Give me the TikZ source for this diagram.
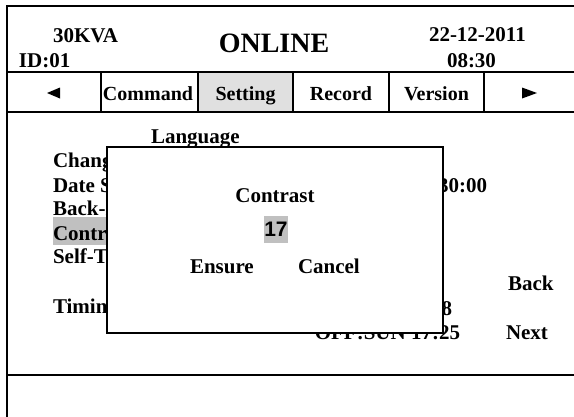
\documentclass[tikz,border=0pt]{standalone}
\usepackage{fontspec}
\setmainfont{Liberation Serif}
\newfontfamily\arialfont{Liberation Sans}
\definecolor{tabgray}{HTML}{E0E0E0}
\definecolor{selgray}{HTML}{C0C0C0}
\begin{document}
\begin{tikzpicture}[x=1pt,y=-1pt,
  every node/.style={inner sep=0pt, outer sep=0pt, font=\bfseries\fontsize{21}{24}\selectfont},
  frameline/.style={line width=2.2pt},
  lbl/.style={anchor=base west},
  lblr/.style={anchor=base east},
  tablbl/.style={anchor=base, font=\bfseries\fontsize{20}{24}\selectfont},
  tri/.style={fill=black}]
\clip (0,0) rectangle (574,416);
\fill[white] (0,0) rectangle (574,416);
% tab highlight
\fill[tabgray] (198,72) rectangle (293,112);
% frame lines
\draw[frameline] (7,6) -- (600,6);
\draw[frameline] (7,5) -- (7,430);
\draw[frameline] (7,72) -- (600,72);
\draw[frameline] (7,112) -- (600,112);
\draw[frameline] (7,375) -- (600,375);
\foreach \x in {101,198,293,389,484} \draw[frameline] (\x,72) -- (\x,112);
% header
\node[lbl] (kva) at (53,42) {30KVA};
\node[lbl] (id) at (19,67) {ID:01};
\node[anchor=base, font=\bfseries\fontsize{28}{32}\selectfont] (online) at (274,52) {ONLINE};
\node[lbl] (date) at (429,41) {22-12-2011};
\node[lbl] (time) at (447,67) {08:30};
% tabs
\fill[tri] (47,93) -- (60,87.5) -- (60,98.5) -- cycle;
\node[tablbl] (tcmd) at (148,100) {Command};
\node[tablbl] (tset) at (245.5,100) {Setting};
\node[tablbl] (trec) at (341,100) {Record};
\node[tablbl] (tver) at (436.5,100) {Version};
\fill[tri] (537,93) -- (522,87.5) -- (522,98.5) -- cycle;
% body menu
\fill[selgray] (53,217) rectangle (115,245);
\node[lbl] (lang) at (151,143) {Language};
\node[lbl] (chg) at (53,167) {Change};
\node[lbl] (dset) at (53,192) {Date Set};
\node[lbl] (back) at (53,215) {Back-light};
\node[lbl] (contr) at (53,240) {Contrast};
\node[lbl] (self) at (53,263) {Self-Test};
\node[lbl] (timing) at (53,313) {Timing};
\node[lblr] (clock) at (487,192) {30:00};
\node[lblr] (ontime) at (452,315) {8};
\node[lblr] (offtime) at (460,339) {OFF:SUN 17:25};
\node[lbl] (bback) at (508,290) {Back};
\node[lbl] (bnext) at (506,339) {Next};
% dialog
\node[draw, fill=white, line width=2pt, minimum width=336pt, minimum height=186pt, anchor=north west] (dlg) at (107,147) {};
\node[anchor=base] (dtitle) at (275,202) {Contrast};
\node[fill=selgray, minimum width=22pt, minimum height=27pt, font=\arialfont\bfseries\fontsize{21}{24}\selectfont] (val) at (276,229.5) {17};
\node[lbl] (ens) at (190,273) {Ensure};
\node[lbl] (can) at (298,273) {Cancel};
\end{tikzpicture}
\end{document}
